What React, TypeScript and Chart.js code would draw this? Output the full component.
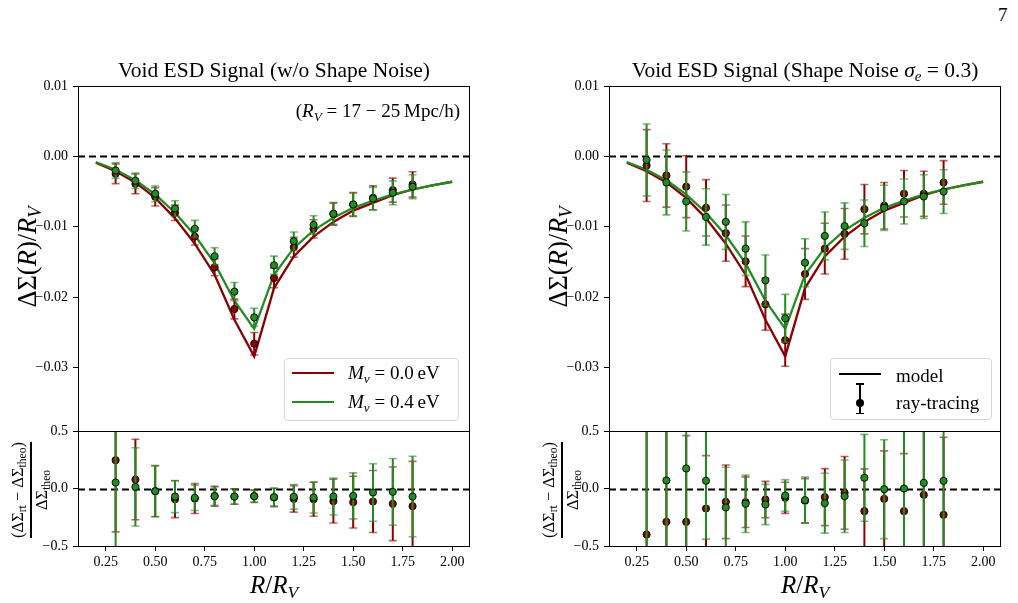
import React, { useEffect, useRef } from "react";
import { Chart, registerables } from "chart.js";

Chart.register(...registerables);

const RED = "#8b0000";
const GREEN = "#228b22";
const SERIF = '"Liberation Serif", "DejaVu Serif", serif';

// radial bins of the ray-tracing measurements and of the model curves (R / R_V)
const R_BINS = [0.3, 0.4, 0.5, 0.6, 0.7, 0.8, 0.9, 1.0, 1.1, 1.2, 1.3, 1.4, 1.5, 1.6, 1.7, 1.8];
const R_MODEL = [0.2, 0.3, 0.4, 0.5, 0.6, 0.7, 0.8, 0.9, 1.0, 1.1, 1.2, 1.3, 1.4, 1.5, 1.6, 1.7, 1.8, 1.9, 2.0];

// axis ticks
const X_TICKS = [0.25, 0.5, 0.75, 1.0, 1.25, 1.5, 1.75, 2.0];
const X_TICK_LABELS = ["0.25", "0.50", "0.75", "1.00", "1.25", "1.50", "1.75", "2.00"];
const ESD_TICKS = [-0.03, -0.02, -0.01, 0.0, 0.01];
const ESD_TICK_LABELS = ["\u22120.03", "\u22120.02", "\u22120.01", "0.00", "0.01"];
const RES_TICKS = [-0.5, 0.0, 0.5];
const RES_TICK_LABELS = ["\u22120.5", "0.0", "0.5"];

// theoretical ESD profiles
const MODEL_M00 = [-0.0009, -0.0021, -0.0037, -0.0059, -0.0088, -0.0124, -0.0168, -0.0232, -0.0284, -0.0187, -0.0142, -0.0114, -0.0093, -0.0077, -0.0066, -0.0055, -0.0047, -0.0041, -0.0036];
const MODEL_M04 = [-0.0008, -0.0019, -0.0034, -0.0054, -0.0080, -0.0112, -0.0152, -0.0205, -0.0245, -0.0168, -0.0130, -0.0105, -0.0087, -0.0073, -0.0063, -0.0054, -0.0047, -0.0041, -0.0036];

// ray-tracing ESD without shape noise
const CLEAN_M00 = [-0.00246, -0.0039, -0.00574, -0.0080, -0.01138, -0.01574, -0.02167, -0.0266, -0.01726, -0.0129, -0.01029, -0.00816, -0.00683, -0.00588, -0.00479, -0.00398];
const CLEAN_M00_ERR = [0.0014, 0.0014, 0.0013, 0.0011, 0.0012, 0.0012, 0.0014, 0.0016, 0.0014, 0.0014, 0.0013, 0.0016, 0.0017, 0.0017, 0.0017, 0.0018];
const CLEAN_M04 = [-0.0020, -0.00346, -0.0053, -0.0074, -0.01029, -0.01418, -0.0192, -0.02286, -0.01546, -0.01204, -0.00972, -0.00816, -0.00683, -0.0060, -0.00517, -0.00431];
const CLEAN_M04_ERR = [0.0011, 0.0011, 0.0011, 0.0011, 0.0012, 0.0012, 0.0013, 0.0013, 0.0013, 0.0013, 0.0013, 0.0015, 0.0016, 0.0016, 0.0017, 0.0017];

// relative residuals without shape noise
const CLEAN_RES_M00 = [0.246, 0.078, -0.023, -0.093, -0.087, -0.067, -0.07, -0.067, -0.078, -0.09, -0.093, -0.11, -0.119, -0.113, -0.133, -0.154];
const CLEAN_RES_M00_ERR = [0.623, 0.35, 0.223, 0.16, 0.13, 0.087, 0.067, 0.055, 0.08, 0.115, 0.148, 0.19, 0.225, 0.27, 0.32, 0.39];
const CLEAN_RES_M04 = [0.052, 0.014, -0.023, -0.07, -0.081, -0.067, -0.07, -0.067, -0.075, -0.072, -0.078, -0.07, -0.064, -0.035, -0.029, -0.07];
const CLEAN_RES_M04_ERR = [0.58, 0.34, 0.22, 0.14, 0.11, 0.08, 0.066, 0.05, 0.077, 0.107, 0.135, 0.16, 0.2, 0.25, 0.29, 0.35];

// ray-tracing ESD with shape noise sigma_e = 0.3
const NOISY_M00 = [-0.0013, -0.0027, -0.0043, -0.0073, -0.0109, -0.0149, -0.0210, -0.0261, -0.0167, -0.0131, -0.0110, -0.0075, -0.0070, -0.0053, -0.0053, -0.0037];
const NOISY_M00_ERR = [0.0051, 0.0045, 0.0044, 0.0040, 0.0040, 0.0036, 0.0037, 0.0037, 0.0036, 0.0036, 0.0036, 0.0035, 0.0033, 0.0033, 0.0032, 0.0031];
const NOISY_M04 = [-0.0005, -0.0037, -0.0064, -0.0086, -0.0093, -0.0131, -0.0176, -0.0230, -0.0151, -0.0113, -0.0099, -0.0095, -0.0073, -0.0064, -0.0057, -0.0050];
const NOISY_M04_ERR = [0.0051, 0.0046, 0.0042, 0.0040, 0.0039, 0.0038, 0.0036, 0.0034, 0.0034, 0.0034, 0.0033, 0.0033, 0.0032, 0.0032, 0.0031, 0.0031];

// relative residuals with shape noise
const NOISY_RES_M00 = [-0.40, -0.29, -0.29, -0.174, -0.116, -0.119, -0.096, -0.081, -0.107, -0.075, -0.038, -0.197, -0.09, -0.197, -0.055, -0.229];
const NOISY_RES_M00_ERR = [2.4, 1.2, 0.75, 0.46, 0.32, 0.22, 0.158, 0.135, 0.192, 0.248, 0.316, 0.368, 0.417, 0.5, 0.59, 0.675];
const NOISY_RES_M04 = [-0.76, 0.07, 0.174, 0.067, -0.165, -0.133, -0.139, -0.061, -0.101, -0.128, -0.067, 0.093, -0.006, 0.0, 0.049, 0.067];
const NOISY_RES_M04_ERR = [2.7, 1.3, 0.8, 0.507, 0.35, 0.25, 0.175, 0.137, 0.2, 0.26, 0.315, 0.378, 0.43, 0.55, 0.57, 0.63];

const X_MIN = 0.11;
const X_MAX = 2.09;

// page geometry: plot areas span x 78..470 / 609..1001, y 86..431 (main) and 431..546 (residual)
const COL_LEFT = [0, 531];
const Y_AXIS_W = 78;
const PLOT_W = 392;
const CANVAS_W = 480;
const MAIN_TOP = 60;
const MAIN_H = 390;
const RES_TOP = 410;
const RES_H = 193;
const X_AXIS_H = 57;

type Series = {
  x: number[];
  y: number[];
  err?: number[];
  color: string;
  model?: boolean;
  order: number;
};

type PanelSpec = {
  series: Series[];
  yMin: number;
  yMax: number;
  yTicks: number[];
  yLabels: string[];
  showX: boolean;
  padTop: number;
  padBottom: number;
};

const tickFont = { family: SERIF, size: 14 };

// frame, dashed zero line and error bars
const panelPlugin = {
  id: "panelDecor",
  beforeDatasetsDraw(chart: any) {
    const { ctx, chartArea: a } = chart;
    const y0 = Math.round(chart.scales.y.getPixelForValue(0)) + 0.5;
    ctx.save();
    ctx.strokeStyle = "#000";
    ctx.lineWidth = 1.8;
    ctx.setLineDash([7, 4]);
    ctx.beginPath();
    ctx.moveTo(a.left, y0);
    ctx.lineTo(a.right, y0);
    ctx.stroke();
    ctx.restore();
  },
  beforeDatasetDraw(chart: any, args: any) {
    const ds = chart.data.datasets[args.index];
    if (!ds.errors) return;
    const { ctx, chartArea: a } = chart;
    const xs = chart.scales.x;
    const ys = chart.scales.y;
    ctx.save();
    ctx.beginPath();
    ctx.rect(a.left, a.top, a.right - a.left, a.bottom - a.top);
    ctx.clip();
    ctx.strokeStyle = ds.errColor;
    ds.data.forEach((p: any, i: number) => {
      const e = ds.errors[i];
      const px = xs.getPixelForValue(p.x);
      const yLo = ys.getPixelForValue(p.y - e);
      const yHi = ys.getPixelForValue(p.y + e);
      ctx.globalAlpha = 1;
      ctx.lineWidth = 2;
      ctx.beginPath();
      ctx.moveTo(px, yLo);
      ctx.lineTo(px, yHi);
      ctx.stroke();
      ctx.globalAlpha = 0.6;
      ctx.lineWidth = 1.6;
      ctx.beginPath();
      ctx.moveTo(px - 4, yLo);
      ctx.lineTo(px + 4, yLo);
      ctx.moveTo(px - 4, yHi);
      ctx.lineTo(px + 4, yHi);
      ctx.stroke();
    });
    ctx.restore();
  },
  afterDatasetsDraw(chart: any) {
    const { ctx, chartArea: a } = chart;
    ctx.save();
    ctx.strokeStyle = "#000";
    ctx.lineWidth = 1;
    ctx.strokeRect(
      Math.round(a.left) + 0.5,
      Math.round(a.top) + 0.5,
      Math.round(a.right - a.left) - 1,
      Math.round(a.bottom - a.top)
    );
    ctx.restore();
  },
};

function makeConfig(spec: PanelSpec): any {
  const datasets = spec.series.map((s) => ({
    type: "scatter",
    data: s.x.map((x, i) => ({ x, y: s.y[i] })),
    showLine: !!s.model,
    borderColor: s.color,
    borderWidth: 2.3,
    pointRadius: s.model ? 0 : 3.6,
    pointHoverRadius: 0,
    pointBackgroundColor: s.color,
    pointBorderColor: "#000",
    pointBorderWidth: 0.9,
    tension: 0,
    order: s.order,
    clip: 0,
    errors: s.err || null,
    errColor: s.color,
  }));
  return {
    type: "scatter",
    data: { datasets },
    options: {
      responsive: false,
      animation: false,
      devicePixelRatio: 1,
      events: [],
      layout: {
        autoPadding: false,
        padding: { left: 0, right: CANVAS_W - Y_AXIS_W - PLOT_W, top: spec.padTop, bottom: spec.padBottom },
      },
      plugins: { legend: { display: false }, tooltip: { enabled: false }, title: { display: false } },
      scales: {
        x: {
          type: "linear",
          min: X_MIN,
          max: X_MAX,
          display: spec.showX,
          afterBuildTicks: (sc: any) => {
            sc.ticks = X_TICKS.map((v) => ({ value: v }));
          },
          afterFit: (sc: any) => {
            sc.height = spec.showX ? X_AXIS_H : 0;
          },
          ticks: {
            callback: (_v: any, i: number) => X_TICK_LABELS[i],
            font: tickFont,
            color: "#000",
            padding: 3,
            maxRotation: 0,
            autoSkip: false,
          },
          grid: { drawOnChartArea: false, tickLength: 5, color: "#000", tickWidth: 1 },
          border: { display: false },
        },
        y: {
          type: "linear",
          min: spec.yMin,
          max: spec.yMax,
          afterBuildTicks: (sc: any) => {
            sc.ticks = spec.yTicks.map((v) => ({ value: v }));
          },
          afterFit: (sc: any) => {
            sc.width = Y_AXIS_W;
          },
          ticks: {
            callback: (_v: any, i: number) => spec.yLabels[i],
            font: tickFont,
            color: "#000",
            padding: 5,
            autoSkip: false,
          },
          grid: { drawOnChartArea: false, tickLength: 5, color: "#000", tickWidth: 1 },
          border: { display: false },
        },
      },
    },
    plugins: [panelPlugin],
  };
}

function PanelCanvas({ left, top, height, spec }: { left: number; top: number; height: number; spec: PanelSpec }) {
  const ref = useRef<HTMLCanvasElement>(null);
  useEffect(() => {
    const chart = new Chart(ref.current as HTMLCanvasElement, makeConfig(spec));
    return () => chart.destroy();
  }, []);
  return (
    <canvas
      ref={ref}
      width={CANVAS_W}
      height={height}
      style={{ position: "absolute", left, top, width: CANVAS_W, height }}
    />
  );
}

function Sub({ children }: { children: React.ReactNode }) {
  return <span style={{ fontSize: "0.7em", position: "relative", top: "0.28em" }}>{children}</span>;
}

function RotatedLabel({ cx, cy, size, children }: { cx: number; cy: number; size: number; children: React.ReactNode }) {
  return (
    <div style={{ position: "absolute", left: cx, top: cy, width: 0, height: 0 }}>
      <div
        style={{
          position: "absolute",
          left: 0,
          top: 0,
          transform: "translate(-50%, -50%) rotate(-90deg)",
          whiteSpace: "nowrap",
          fontSize: size,
          lineHeight: 1,
          fontFamily: SERIF,
        }}
      >
        {children}
      </div>
    </div>
  );
}

function ResidualLabel({ cx, cy }: { cx: number; cy: number }) {
  return (
    <RotatedLabel cx={cx} cy={cy} size={16.5}>
      <div style={{ display: "inline-flex", flexDirection: "column", alignItems: "center" }}>
        <span>
          (ΔΣ<Sub>rt</Sub> − ΔΣ<Sub>theo</Sub>)
        </span>
        <span style={{ alignSelf: "stretch", height: 2, background: "#000", margin: "3px 0 2px" }} />
        <span>
          ΔΣ<Sub>theo</Sub>
        </span>
      </div>
    </RotatedLabel>
  );
}

function Column({ col, title, main, resid }: { col: number; title: React.ReactNode; main: PanelSpec; resid: PanelSpec }) {
  const x0 = COL_LEFT[col];
  const plotLeft = x0 + Y_AXIS_W;
  const plotMid = plotLeft + PLOT_W / 2;
  return (
    <>
      <PanelCanvas left={x0} top={MAIN_TOP} height={MAIN_H} spec={main} />
      <PanelCanvas left={x0} top={RES_TOP} height={RES_H} spec={resid} />
      <div
        style={{
          position: "absolute",
          left: plotLeft - 60,
          width: PLOT_W + 120,
          top: 60,
          textAlign: "center",
          fontSize: 21.5,
          lineHeight: 1,
          fontFamily: SERIF,
          whiteSpace: "nowrap",
        }}
      >
        {title}
      </div>
      <RotatedLabel cx={x0 + 27} cy={257} size={26.5}>
        ΔΣ(<i>R</i>)/<i>R</i>
        <Sub>
          <i>V</i>
        </Sub>
      </RotatedLabel>
      <ResidualLabel cx={x0 + 30} cy={490} />
      <div
        style={{
          position: "absolute",
          left: plotMid - 60,
          width: 120,
          top: 572,
          textAlign: "center",
          fontSize: 25,
          lineHeight: 1,
          fontFamily: SERIF,
          whiteSpace: "nowrap",
        }}
      >
        <i>R</i>/<i>R</i>
        <Sub>
          <i>V</i>
        </Sub>
      </div>
    </>
  );
}

const legendText: React.CSSProperties = {
  position: "absolute",
  fontSize: 19,
  lineHeight: 1,
  fontFamily: SERIF,
  whiteSpace: "nowrap",
};

function LegendBox({ left, top, width, height, children }: any) {
  return (
    <div
      style={{
        position: "absolute",
        left,
        top,
        width,
        height,
        boxSizing: "border-box",
        border: "1px solid #d6d6d6",
        borderRadius: 4,
        background: "rgba(255,255,255,0.8)",
      }}
    >
      {children}
    </div>
  );
}

export default function App() {
  const cleanMain: PanelSpec = {
    series: [
      { x: R_MODEL, y: MODEL_M00, color: RED, model: true, order: 3 },
      { x: R_MODEL, y: MODEL_M04, color: GREEN, model: true, order: 2 },
      { x: R_BINS, y: CLEAN_M00, err: CLEAN_M00_ERR, color: RED, order: 1 },
      { x: R_BINS, y: CLEAN_M04, err: CLEAN_M04_ERR, color: GREEN, order: 0 },
    ],
    yMin: -0.039,
    yMax: 0.01,
    yTicks: ESD_TICKS,
    yLabels: ESD_TICK_LABELS,
    showX: false,
    padTop: 26,
    padBottom: 19,
  };
  const cleanRes: PanelSpec = {
    series: [
      { x: R_BINS, y: CLEAN_RES_M00, err: CLEAN_RES_M00_ERR, color: RED, order: 1 },
      { x: R_BINS, y: CLEAN_RES_M04, err: CLEAN_RES_M04_ERR, color: GREEN, order: 0 },
    ],
    yMin: -0.5,
    yMax: 0.5,
    yTicks: RES_TICKS,
    yLabels: RES_TICK_LABELS,
    showX: true,
    padTop: 21,
    padBottom: 0,
  };
  const noisyMain: PanelSpec = {
    ...cleanMain,
    series: [
      { x: R_MODEL, y: MODEL_M00, color: RED, model: true, order: 3 },
      { x: R_MODEL, y: MODEL_M04, color: GREEN, model: true, order: 2 },
      { x: R_BINS, y: NOISY_M00, err: NOISY_M00_ERR, color: RED, order: 1 },
      { x: R_BINS, y: NOISY_M04, err: NOISY_M04_ERR, color: GREEN, order: 0 },
    ],
  };
  const noisyRes: PanelSpec = {
    ...cleanRes,
    series: [
      { x: R_BINS, y: NOISY_RES_M00, err: NOISY_RES_M00_ERR, color: RED, order: 1 },
      { x: R_BINS, y: NOISY_RES_M04, err: NOISY_RES_M04_ERR, color: GREEN, order: 0 },
    ],
  };

  return (
    <div
      style={{
        position: "absolute",
        left: 0,
        top: 0,
        width: 1018,
        height: 603,
        overflow: "hidden",
        background: "#fff",
        color: "#000",
        fontFamily: SERIF,
      }}
    >
      <div style={{ ...legendText, left: 998, top: 5, fontSize: 19 }}>7</div>

      <Column col={0} title={<>Void ESD Signal (w/o Shape Noise)</>} main={cleanMain} resid={cleanRes} />
      <Column
        col={1}
        title={
          <>
            Void ESD Signal (Shape Noise <i>σ</i>
            <Sub>
              <i>e</i>
            </Sub>
            {" = 0.3)"}
          </>
        }
        main={noisyMain}
        resid={noisyRes}
      />

      <div style={{ ...legendText, right: 1018 - 460, top: 101 }}>
        (<i>R</i>
        <Sub>
          <i>V</i>
        </Sub>
        {" = 17 \u2212 25\u2009Mpc/h)"}
      </div>

      <LegendBox left={284} top={358} width={175} height={63}>
        <div style={{ position: "absolute", left: 7, top: 13, width: 42, height: 2.3, background: RED }} />
        <div style={{ ...legendText, left: 63, top: 4 }}>
          <i>M</i>
          <Sub>
            <i>ν</i>
          </Sub>
          {" = 0.0\u2009eV"}
        </div>
        <div style={{ position: "absolute", left: 7, top: 42, width: 42, height: 2.3, background: GREEN }} />
        <div style={{ ...legendText, left: 63, top: 33 }}>
          <i>M</i>
          <Sub>
            <i>ν</i>
          </Sub>
          {" = 0.4\u2009eV"}
        </div>
      </LegendBox>

      <LegendBox left={830} top={358} width={162} height={62}>
        <div style={{ position: "absolute", left: 8, top: 14, width: 42, height: 2, background: "#000" }} />
        <div style={{ ...legendText, left: 65, top: 7 }}>model</div>
        <div style={{ position: "absolute", left: 28, top: 24, width: 2, height: 31, background: "#000" }} />
        <div style={{ position: "absolute", left: 25, top: 24, width: 8, height: 1.5, background: "#000" }} />
        <div style={{ position: "absolute", left: 25, top: 53.5, width: 8, height: 1.5, background: "#000" }} />
        <div
          style={{
            position: "absolute",
            left: 25,
            top: 40,
            width: 8,
            height: 8,
            borderRadius: "50%",
            background: "#000",
          }}
        />
        <div style={{ ...legendText, left: 65, top: 34 }}>ray-tracing</div>
      </LegendBox>
    </div>
  );
}
